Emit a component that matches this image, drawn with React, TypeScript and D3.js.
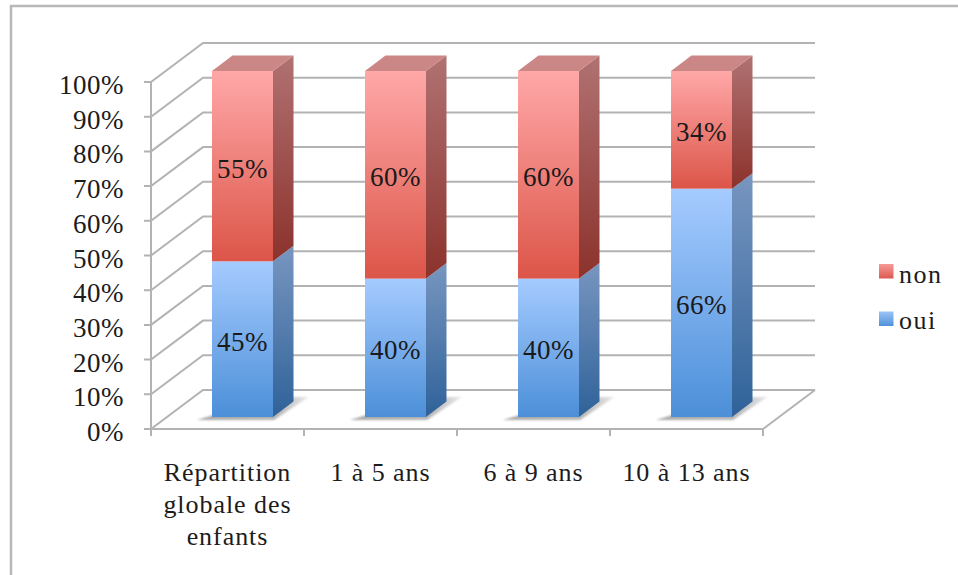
import React from "react";
import * as d3 from "d3";

const categories = ["Répartition globale des enfants", "1 à 5 ans", "6 à 9 ans", "10 à 13 ans"];
const categoryLines = [["Répartition", "globale des", "enfants"], ["1 à 5 ans"], ["6 à 9 ans"], ["10 à 13 ans"]];
const oui = [45, 40, 40, 66];
const non = [55, 60, 60, 34];
const yTicks = [0, 10, 20, 30, 40, 50, 60, 70, 80, 90, 100];
const legendItems = [
  { name: "non", fill: "url(#legendRed)" },
  { name: "oui", fill: "url(#legendBlue)" },
];

const WIDTH = 958;
const HEIGHT = 575;
const FONT = '"Liberation Serif", serif';
const INK = "#1c1c1c";
const GRID = "#b3b3b3";

// Front edge of the box, then the offset from front to back wall
const yFront = d3.scaleLinear().domain([0, 100]).range([429, 82]);
const xBand = d3.scaleBand<string>().domain(categories).range([151, 763]);
const WALL_DX = 52;
const WALL_DY = -39;

// The plane the bars stand on, and their depth
const yBar = d3.scaleLinear().domain([0, 100]).range([417, 71]);
const BAR_INSET = 61;
const BAR_WIDTH = 61;
const BAR_DX = 20.5;
const BAR_DY = -15.5;

const poly = (pts: [number, number][]) => pts.map((p) => p.join(",")).join(" ");

const valueText = {
  textAnchor: "middle" as const,
  fontFamily: FONT,
  fontSize: 27,
  letterSpacing: 0.5,
  fill: "#1a1a1a",
};

function Gradient({ id, top, bottom }: { id: string; top: string; bottom: string }) {
  return (
    <linearGradient id={id} x1="0" y1="0" x2="0" y2="1">
      <stop offset="0" stopColor={top} />
      <stop offset="1" stopColor={bottom} />
    </linearGradient>
  );
}

export default function App() {
  const columns = categories.map((c, i) => {
    const x0 = (xBand(c) as number) + BAR_INSET;
    return { c, i, x0, x1: x0 + BAR_WIDTH, yMid: yBar(oui[i]), yTop: yBar(oui[i] + non[i]), yBase: yBar(0) };
  });

  return (
    <svg
      width={WIDTH}
      height={HEIGHT}
      viewBox={`0 0 ${WIDTH} ${HEIGHT}`}
      style={{ position: "absolute", left: 0, top: 0, display: "block", background: "#fff" }}
    >
      <defs>
        <Gradient id="redFront" top="#ffa8a8" bottom="#dc5548" />
        <Gradient id="redSide" top="#b07272" bottom="#8c322c" />
        <Gradient id="blueFront" top="#a5cbff" bottom="#4c8fd8" />
        <Gradient id="blueSide" top="#7896c0" bottom="#2f6299" />
        <Gradient id="legendRed" top="#f69a96" bottom="#dc5a50" />
        <Gradient id="legendBlue" top="#9cc4f6" bottom="#4f92da" />
        <linearGradient id="floorShadow" x1="0" y1="0" x2="1" y2="0">
          <stop offset="0" stopColor="#a8a8a8" />
          <stop offset="0.7" stopColor="#b4b4b4" />
          <stop offset="1" stopColor="#e8e8e8" />
        </linearGradient>
        <filter id="soft" x="-20%" y="-40%" width="140%" height="180%">
          <feGaussianBlur stdDeviation="1.2" />
        </filter>
      </defs>

      {/* Outer frame: only the top and left edges are visible */}
      <path d={`M11,${HEIGHT} V6 H${WIDTH}`} fill="none" stroke="#b8b8b8" strokeWidth={2.5} />

      {/* Box: wall lines, floor diagonals and tick marks */}
      <g fill="none" stroke={GRID} strokeWidth={2}>
        {yTicks.map((t) => {
          const y = yFront(t);
          return (
            <path
              key={t}
              d={`M144,${y} H151 L${151 + WALL_DX},${y + WALL_DY} H${763 + WALL_DX}`}
            />
          );
        })}
        <path d={`M151,${yFront(100)} V${yFront(0) + 7}`} />
        <path d={`M151,${yFront(0)} H763 L${763 + WALL_DX},${yFront(0) + WALL_DY}`} />
        {categories.map((c) => {
          const x = (xBand(c) as number) + xBand.bandwidth();
          return <path key={c} d={`M${x},${yFront(0)} V${yFront(0) + 7}`} />;
        })}
      </g>

      {/* Stacked 3D columns */}
      {columns.map(({ c, i, x0, x1, yMid, yTop, yBase }) => (
        <g key={c}>
          <polygon
            points={poly([
              [x0 - 15, yBase + 3],
              [x1 + 1, yBase + 3],
              [x1 + BAR_DX + 15, yBase - 20],
              [x1, yBase - 20],
            ])}
            fill="url(#floorShadow)"
            filter="url(#soft)"
          />
          <polygon
            points={poly([
              [x1, yBase],
              [x1 + BAR_DX, yBase + BAR_DY],
              [x1 + BAR_DX, yMid + BAR_DY],
              [x1, yMid],
            ])}
            fill="url(#blueSide)"
          />
          <polygon
            points={poly([
              [x1, yMid],
              [x1 + BAR_DX, yMid + BAR_DY],
              [x1 + BAR_DX, yTop + BAR_DY],
              [x1, yTop],
            ])}
            fill="url(#redSide)"
          />
          <polygon
            points={poly([
              [x0, yTop],
              [x1, yTop],
              [x1 + BAR_DX, yTop + BAR_DY],
              [x0 + BAR_DX, yTop + BAR_DY],
            ])}
            fill="#cb8686"
          />
          <rect x={x0} y={yMid} width={BAR_WIDTH} height={yBase - yMid} fill="url(#blueFront)" />
          <rect x={x0} y={yTop} width={BAR_WIDTH} height={yMid - yTop} fill="url(#redFront)" />
          <text x={(x0 + x1) / 2} y={(yMid + yBase) / 2 + 11.5} {...valueText}>
            {oui[i]}%
          </text>
          <text x={(x0 + x1) / 2} y={(yTop + yMid) / 2 + 11.5} {...valueText}>
            {non[i]}%
          </text>
        </g>
      ))}

      {/* Value axis labels */}
      {yTicks.map((t) => (
        <text
          key={t}
          x={124}
          y={yFront(t) + 12}
          textAnchor="end"
          fontFamily={FONT}
          fontSize={27}
          letterSpacing={0.5}
          fill={INK}
        >
          {t}%
        </text>
      ))}

      {/* Category labels */}
      {categoryLines.map((lines, i) => (
        <text
          key={i}
          textAnchor="middle"
          fontFamily={FONT}
          fontSize={26}
          letterSpacing={0.95}
          fill={INK}
        >
          {lines.map((line, j) => (
            <tspan key={j} x={(xBand(categories[i]) as number) + xBand.bandwidth() / 2} y={481 + j * 32}>
              {line}
            </tspan>
          ))}
        </text>
      ))}

      {/* Legend */}
      {legendItems.map((item, i) => (
        <g key={item.name}>
          <rect x={879} y={264 + i * 47.5} width={14.5} height={14.5} fill={item.fill} />
          <text x={899} y={283 + i * 46} fontFamily={FONT} fontSize={26} letterSpacing={1.5} fill={INK}>
            {item.name}
          </text>
        </g>
      ))}
    </svg>
  );
}
